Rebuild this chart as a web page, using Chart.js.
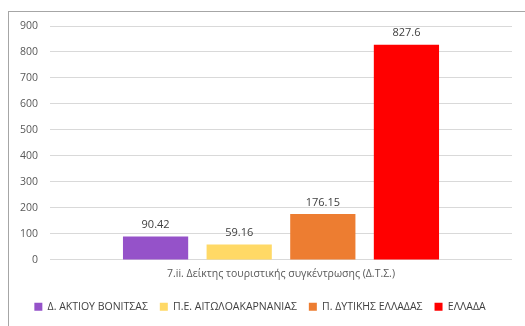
<!DOCTYPE html>
<html>
<head>
<meta charset="utf-8">
<script src="https://cdn.jsdelivr.net/npm/chart.js@4/dist/chart.umd.min.js"></script>
<style>
  body { margin: 0; background: #fff; }
  #wrap { position: relative; width: 525px; height: 326px; }
  #frame { position: absolute; left: 8px; top: 11px; width: 530px; height: 330px;
           border-left: 1px solid #a6a6a6; border-top: 1px solid #a6a6a6; }
  canvas { position: absolute; left: 0; top: 0; }
</style>
</head>
<body>
<div id="wrap">
  <div id="frame"></div>
  <canvas id="dts" width="525" height="326"></canvas>
</div>
<script>
var categories = ['7.ii. Δείκτης τουριστικής συγκέντρωσης (Δ.Τ.Σ.)'];
var seriesNames = ['Δ. ΑΚΤΙΟΥ ΒΟΝΙΤΣΑΣ', 'Π.Ε. ΑΙΤΩΛΟΑΚΑΡΝΑΝΙΑΣ', 'Π. ΔΥΤΙΚΗΣ ΕΛΛΑΔΑΣ', 'ΕΛΛΑΔΑ'];
var seriesValues = [90.42, 59.16, 176.15, 827.6];
var seriesColors = ['#9552c9', '#ffd966', '#ed7d31', '#ff0000'];

// value labels above each bar
var barValues = {
  id: 'barValues',
  afterDatasetsDraw: function(chart) {
    var ctx = chart.ctx;
    ctx.save();
    ctx.font = '11px "Open Sans", sans-serif';
    ctx.fillStyle = '#404040';
    ctx.textAlign = 'center';
    ctx.textBaseline = 'bottom';
    chart.data.datasets.forEach(function(ds, i) {
      chart.getDatasetMeta(i).data.forEach(function(bar, j) {
        ctx.fillText(String(ds.data[j]), bar.x, bar.y - 6);
      });
    });
    ctx.restore();
  }
};

var datasets = seriesNames.map(function(name, i) {
  return {
    label: name,
    data: [seriesValues[i]],
    backgroundColor: seriesColors[i],
    categoryPercentage: 0.724,
    barPercentage: 0.78
  };
});

new Chart(document.getElementById('dts').getContext('2d'), {
  type: 'bar',
  data: { labels: categories, datasets: datasets },
  options: {
    responsive: false,
    animation: false,
    layout: { padding: { left: 8, right: 13, top: 26, bottom: 4 } },
    plugins: {
      legend: {
        position: 'bottom',
        labels: {
          boxWidth: 8, boxHeight: 8, padding: 12,
          color: '#404040',
          font: { family: '"Open Sans", sans-serif', size: 10.5 }
        }
      },
      tooltip: { enabled: false }
    },
    scales: {
      x: {
        grid: { display: false },
        border: { display: false },
        ticks: { color: '#595959', font: { family: '"Open Sans", sans-serif', size: 10.5 }, padding: 0 },
        afterFit: function(scale) { scale.height += 9; }
      },
      y: {
        min: 0, max: 900,
        ticks: { stepSize: 100, color: '#595959', font: { family: '"Open Sans", sans-serif', size: 10.5 }, padding: 12 },
        grid: { color: '#d9d9d9', drawTicks: false },
        border: { display: false }
      }
    }
  },
  plugins: [barValues]
});
</script>
</body>
</html>
